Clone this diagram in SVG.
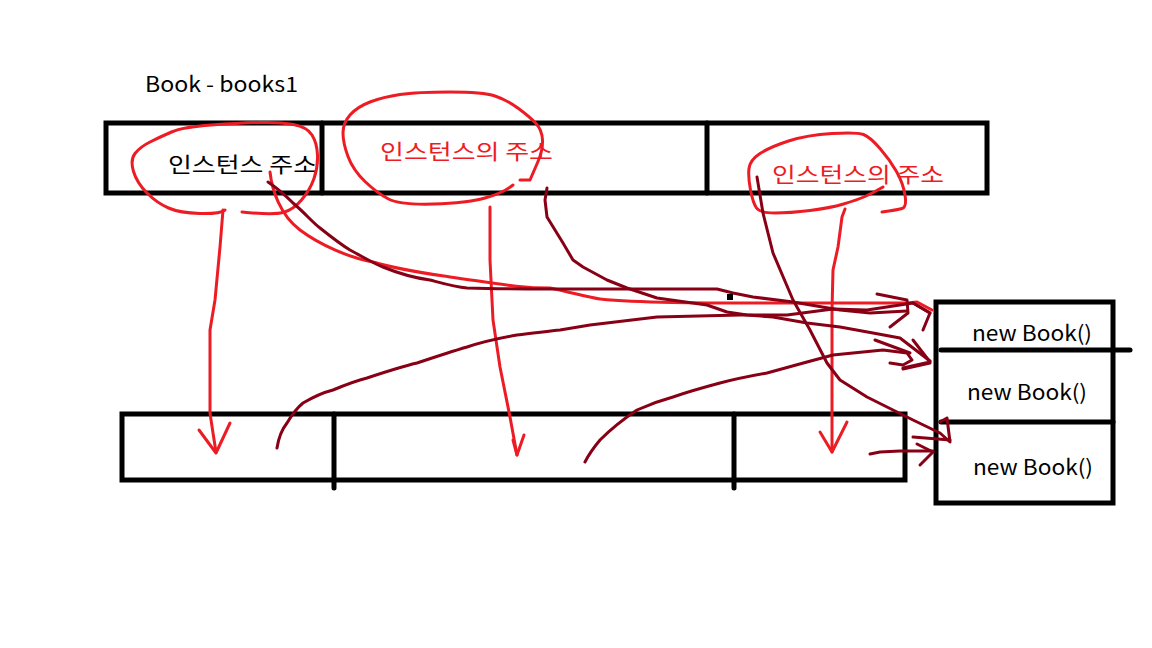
<svg xmlns="http://www.w3.org/2000/svg" width="1152" height="648" viewBox="0 0 1152 648">
<style>
.box{fill:none;stroke:#000;stroke-width:5;stroke-linecap:square}
.bl{fill:none;stroke:#000;stroke-width:5;stroke-linecap:round}
.r{fill:none;stroke:#ED1C24;stroke-width:3;stroke-linejoin:round;stroke-linecap:round}
.d{fill:none;stroke:#880015;stroke-width:3;stroke-linejoin:round;stroke-linecap:round}
.t{font-family:"Noto Sans CJK KR","Noto Sans",sans-serif;font-size:21px;fill:#000}
.tr{font-family:"Noto Sans CJK KR","Noto Sans",sans-serif;font-size:21px;fill:#ED1C24}
</style>
<rect width="1152" height="648" fill="#fff"/>

<g id="title">
<text class="t" x="145" y="92" textLength="153" lengthAdjust="spacingAndGlyphs">Book - books1</text>
</g>

<g id="top-array">
<rect class="box" x="106" y="123" width="881" height="70"/>
<line class="bl" x1="322" y1="123" x2="322" y2="193"/>
<line class="bl" x1="707" y1="123" x2="707" y2="193"/>
<text class="t" x="168" y="172" textLength="149" lengthAdjust="spacingAndGlyphs">인스턴스 주소</text>
<text class="tr" x="380" y="159" textLength="173" lengthAdjust="spacingAndGlyphs">인스턴스의 주소</text>
<text class="tr" x="772" y="182" textLength="172" lengthAdjust="spacingAndGlyphs">인스턴스의 주소</text>
</g>

<g id="bottom-array">
<rect class="box" x="122" y="414" width="783" height="66"/>
<line class="bl" x1="334" y1="414" x2="334" y2="488"/>
<line class="bl" x1="734" y1="414" x2="734" y2="488"/>
</g>

<g id="instances">
<rect class="box" x="936" y="302" width="177" height="201"/>
<line class="bl" x1="941" y1="350" x2="1130" y2="350"/>
<line class="bl" x1="941" y1="422" x2="1113" y2="422"/>
<text class="t" x="972" y="341" textLength="120" lengthAdjust="spacingAndGlyphs">new Book()</text>
<text class="t" x="967" y="400" textLength="120" lengthAdjust="spacingAndGlyphs">new Book()</text>
<text class="t" x="973" y="475" textLength="120" lengthAdjust="spacingAndGlyphs">new Book()</text>
</g>

<g id="connectors">
<!-- red ellipse 1 -->
<path class="r" d="M225,210 Q220,214 200,213.5 Q180,213 168.5,208 Q157,203 147,193 Q137,183 133.5,171.5 Q130,160 135,153.5 Q140,147 150,142 Q160,137 171.5,132 Q183,127 211.5,125 Q240,123 260,122.5 Q280,122 293.5,124.5 Q307,127 312,135 Q317,143 317.5,155 Q318,167 314,178.5 Q310,190 301.5,200 Q293,210 283,212.5 Q273,215 242,212"/>
<!-- red arrow 1 down -->
<polyline class="r" points="223,210 220,247 215,300 210,330 210,413 213,433 216,452"/>
<polyline class="r" points="199,430 216,453 230,423"/>
<!-- red ellipse 2 -->
<path class="r" d="M513,185 Q503,193 485,198 Q467,203 433.5,204 Q400,205 388.5,199 Q377,193 365,181.5 Q353,170 348,156.5 Q343,143 343,133 Q343,123 350,115 Q357,107 370,102 Q383,97 400,94.5 Q417,92 450,92 Q483,92 495,96 Q507,100 518.5,108.5 Q530,117 536,123.5 Q542,130 542.5,140 Q543,150 538,161.5 Q533,173 530,180 L520,180"/>
<!-- red arrow 2 down -->
<polyline class="r" points="490,207 490,260 493,320 500,367 510,417 517,455"/>
<polyline class="r" points="513,440 517,455 524,435"/>
<!-- red ellipse 3 -->
<path class="r" d="M883,187 Q873,193 865,196.5 Q857,200 843.5,204 Q830,208 810,210.5 Q790,213 775,213 Q760,213 756.5,208 Q753,203 750.5,190 Q748,177 749,168.5 Q750,160 760,153.5 Q770,147 788.5,141 Q807,135 832,133.5 Q857,132 863.5,134.5 Q870,137 880,148.5 Q890,160 896.5,171.5 Q903,183 905,195 Q907,207 902,208.5 Q897,210 882,212"/>
<!-- red arrow 3 down -->
<polyline class="r" points="845,209 842,217 838,247 833,270 832,310 832,437 832,452"/>
<polyline class="r" points="820,432 832,452 847,422"/>
<!-- red long curve from cell 1 to first instance -->
<path class="r" d="M270,172 C272,190 280,215 300,230 C320,245 350,258 373,262 C400,270 430,274 450,277 C500,284 520,288 550,288 C570,292 590,298 600,299 C640,303 700,303 760,303 L907,303 L917,302 L932,310"/>
<!-- dark curve 1 from cell 1 -->
<path class="d" d="M268,182 C280,190 288,198 293,203 C305,213 312,222 320,228 C335,240 345,247 350,250 C365,258 375,264 383,267 C400,274 415,278 430,280 C445,284 455,287 467,288 C500,289 530,289 550,289 L717,289 L733,293 L753,297 L793,302 L840,310 L870,313 L907,311"/>
<polyline class="d" points="877,294 907,300 908,313 890,327"/>
<!-- dark curve 2 from cell 2 -->
<path class="d" d="M547,188 L545,200 L547,217 L563,243 L573,260 L583,267 L607,280 L627,288 L657,298 L707,305 L727,312 L747,315 L773,317 L807,323 L840,327 L873,333 L900,338 L930,361"/>
<polyline class="d" points="913,340 930,362 903,368"/>
<!-- dark curve 3 from bottom cell 1 -->
<path class="d" d="M277,448 C279,435 283,428 287,423 C293,413 298,407 303,403 C315,396 325,392 333,390 C345,385 355,381 367,378 C385,372 400,367 417,363 C435,357 450,352 467,347 C485,341 500,338 517,335 C535,333 550,331 560,330 L590,325 L657,317 L740,315 L787,315 L833,309 L867,310 L913,303 L930,313"/>
<polyline class="d" points="913,303 930,313 923,330"/>
<!-- dark curve 4 from bottom cell 2 -->
<path class="d" d="M585,462 C590,452 595,446 600,440 C612,428 625,418 637,410 C650,404 662,400 673,397 C690,391 705,387 720,383 C735,379 750,376 767,373 C785,368 800,364 807,362 L833,355 L883,350 L907,353 L912,360 L903,365 L890,363"/>
<polyline class="d" points="875,340 910,353"/>
<polyline class="d" points="903,369 930,363"/>
<!-- dark curve 5 from top cell 3 -->
<path class="d" d="M757,177 L763,213 L773,253 L793,300 L810,330 L827,363 L840,380 L867,397 L893,410 L913,420 L940,433 L950,442 L947,418 L940,422"/>
<polyline class="d" points="913,437 950,440"/>
<!-- dark arrow 6 from bottom cell 3 -->
<polyline class="d" points="870,454 880,452 900,451 933,451"/>
<polyline class="d" points="917,444 933,452 920,465"/>
<!-- stray dot -->
<rect x="727" y="294" width="6" height="6" fill="#000"/>
</g>
</svg>
